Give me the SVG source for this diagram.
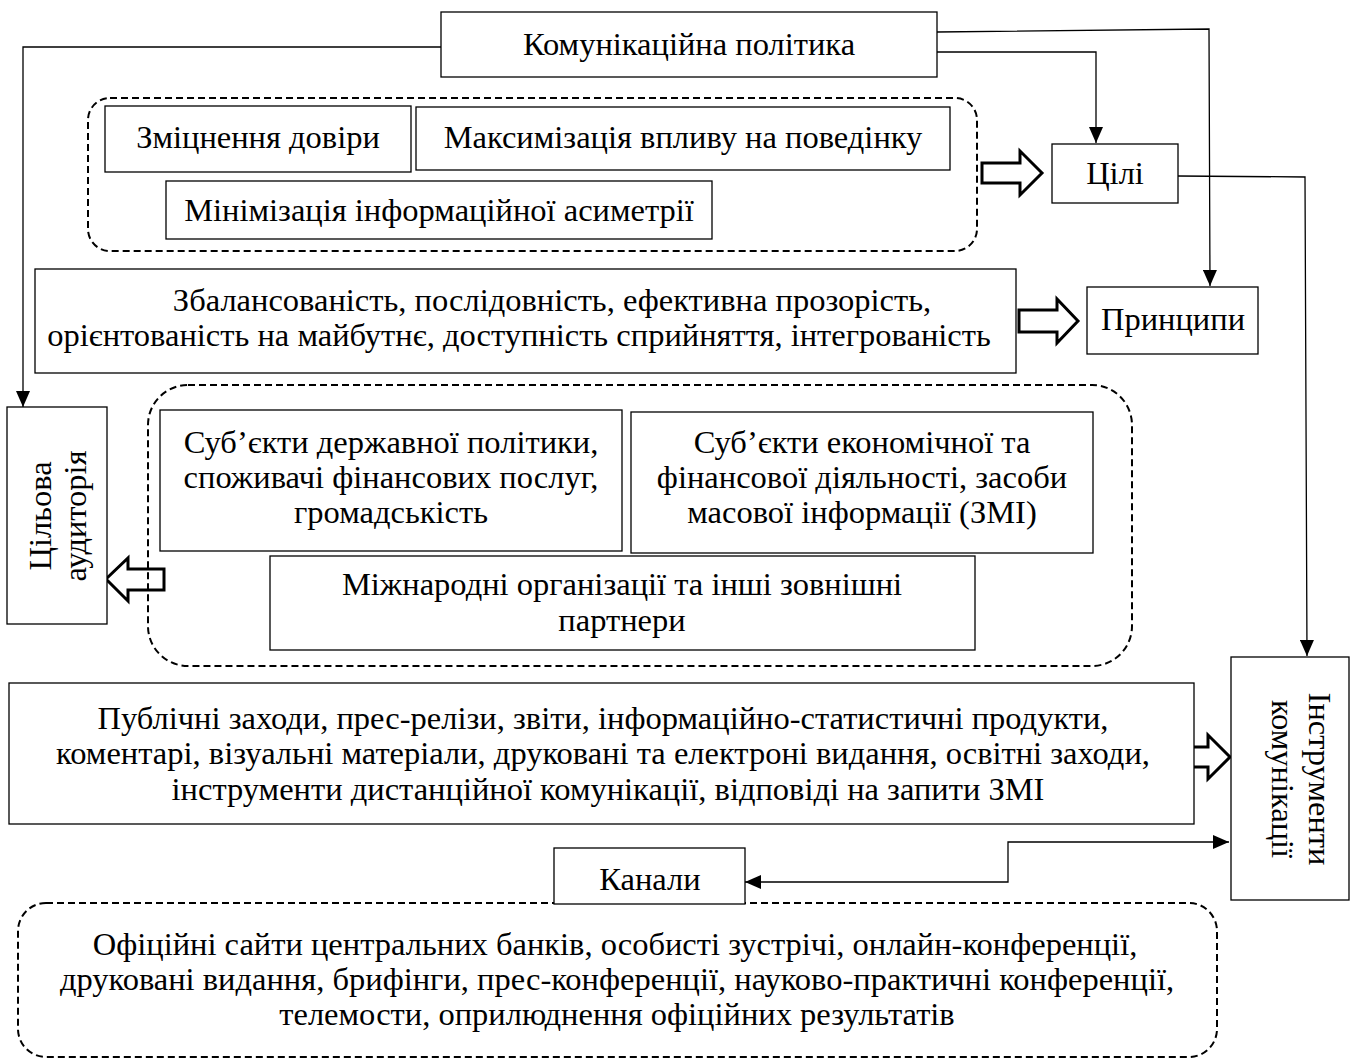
<svg xmlns="http://www.w3.org/2000/svg" width="1353" height="1060" viewBox="0 0 1353 1060">
<defs>
<style>
text{font-family:"Liberation Serif","Times New Roman",serif;font-size:32.5px;fill:#000;text-anchor:middle}
.box{fill:#fff;stroke:#000;stroke-width:1.3}
.dash{fill:none;stroke:#000;stroke-width:2;stroke-dasharray:7 4}
.conn{fill:none;stroke:#000;stroke-width:1.3}
.big{fill:none;stroke:#000;stroke-width:3;stroke-linejoin:miter}
</style>
<marker id="ah" markerUnits="userSpaceOnUse" markerWidth="17" markerHeight="14" refX="16" refY="7" orient="auto-start-reverse">
<path d="M0,0 L16,7 L0,14 z" fill="#000"/>
</marker>
</defs>
<rect width="1353" height="1060" fill="#fff"/>

<g id="connectors">
<polyline class="conn" points="441,47 23,47 23,407" marker-end="url(#ah)"/>
<polyline class="conn" points="937,32 1209,29 1210,286" marker-end="url(#ah)"/>
<polyline class="conn" points="937,52 1096,52 1096,143" marker-end="url(#ah)"/>
<polyline class="conn" points="1178,176 1305,177 1307,656" marker-end="url(#ah)"/>
<polyline class="conn" points="1229,842 1008,842 1008,882 745,882" marker-start="url(#ah)" marker-end="url(#ah)"/>
<polygon class="big" points="982,163 1020,163 1020,151 1042,173 1020,195 1020,183 982,183"/>
<polygon class="big" points="1019,310 1057,310 1057,299 1078,321 1057,343 1057,332 1019,332"/>
<polygon class="big" points="164,569 128,569 128,558 106,579 128,601 128,590 164,590"/>
<polygon class="big" points="1171,747 1208,747 1208,735 1230,757 1208,779 1208,767 1171,767"/>
</g>

<g id="policy">
<rect class="box" x="441" y="12" width="496" height="65"/>
<text x="689" y="55">Комунікаційна політика</text>
</g>

<g id="goals-group">
<rect class="dash" x="88" y="98" width="889" height="153" rx="22"/>
<g id="trust">
<rect class="box" x="105" y="106" width="306" height="66"/>
<text x="258" y="148">Зміцнення довіри</text>
</g>
<g id="influence">
<rect class="box" x="416" y="107" width="534" height="63"/>
<text x="683" y="148">Максимізація впливу на поведінку</text>
</g>
<g id="asymmetry">
<rect class="box" x="166" y="181" width="546" height="58"/>
<text x="439" y="221">Мінімізація інформаційної асиметрії</text>
</g>
</g>

<g id="goals">
<rect class="box" x="1052" y="144" width="126" height="59"/>
<text x="1115" y="184">Цілі</text>
</g>

<g id="principles-list">
<rect class="box" x="35" y="269" width="981" height="104"/>
<text x="552" y="311">Збалансованість, послідовність, ефективна прозорість,</text>
<text x="519" y="346">орієнтованість на майбутнє, доступність сприйняття, інтегрованість</text>
</g>

<g id="principles">
<rect class="box" x="1087" y="287" width="171" height="67"/>
<text x="1173" y="330">Принципи</text>
</g>

<g id="audience">
<rect class="box" x="7" y="407" width="100" height="217"/>
<g transform="translate(57,516) rotate(-90)">
<text x="0" y="-6">Цільова</text>
<text x="0" y="29">аудиторія</text>
</g>
</g>

<g id="audience-group">
<rect class="dash" x="148" y="385" width="984" height="281" rx="40"/>
<g id="subjects-state">
<rect class="box" x="160" y="410" width="462" height="141"/>
<text x="391" y="453">Суб’єкти державної політики,</text>
<text x="391" y="488">споживачі фінансових послуг,</text>
<text x="391" y="523">громадськість</text>
</g>
<g id="subjects-econ">
<rect class="box" x="631" y="412" width="462" height="141"/>
<text x="862" y="453">Суб’єкти економічної та</text>
<text x="862" y="488">фінансової діяльності, засоби</text>
<text x="862" y="523">масової інформації (ЗМІ)</text>
</g>
<g id="intl">
<rect class="box" x="270" y="556" width="705" height="94"/>
<text x="622" y="595">Міжнародні організації та інші зовнішні</text>
<text x="622" y="631">партнери</text>
</g>
</g>

<g id="tools-list">
<rect class="box" x="9" y="683" width="1185" height="141"/>
<text x="603" y="729">Публічні заходи, прес-релізи, звіти, інформаційно-статистичні продукти,</text>
<text x="603" y="764">коментарі, візуальні матеріали, друковані та електроні видання, освітні заходи,</text>
<text x="608" y="800">інструменти дистанційної комунікації, відповіді на запити ЗМІ</text>
</g>

<g id="tools">
<rect class="box" x="1231" y="657" width="118" height="243"/>
<g transform="translate(1290,779) rotate(90)">
<text x="0" y="-19">Інструменти</text>
<text x="0" y="18">комунікації</text>
</g>
</g>

<g id="channels-list">
<rect class="dash" x="18" y="903" width="1199" height="154" rx="28"/>
<text x="615" y="955">Офіційні сайти центральних банків, особисті зустрічі, онлайн-конференції,</text>
<text x="617" y="990">друковані видання, брифінги, прес-конференції, науково-практичні конференції,</text>
<text x="617" y="1025">телемости, оприлюднення офіційних результатів</text>
</g>

<g id="channels">
<rect class="box" x="554" y="848" width="191" height="56"/>
<text x="650" y="890">Канали</text>
</g>
</svg>
